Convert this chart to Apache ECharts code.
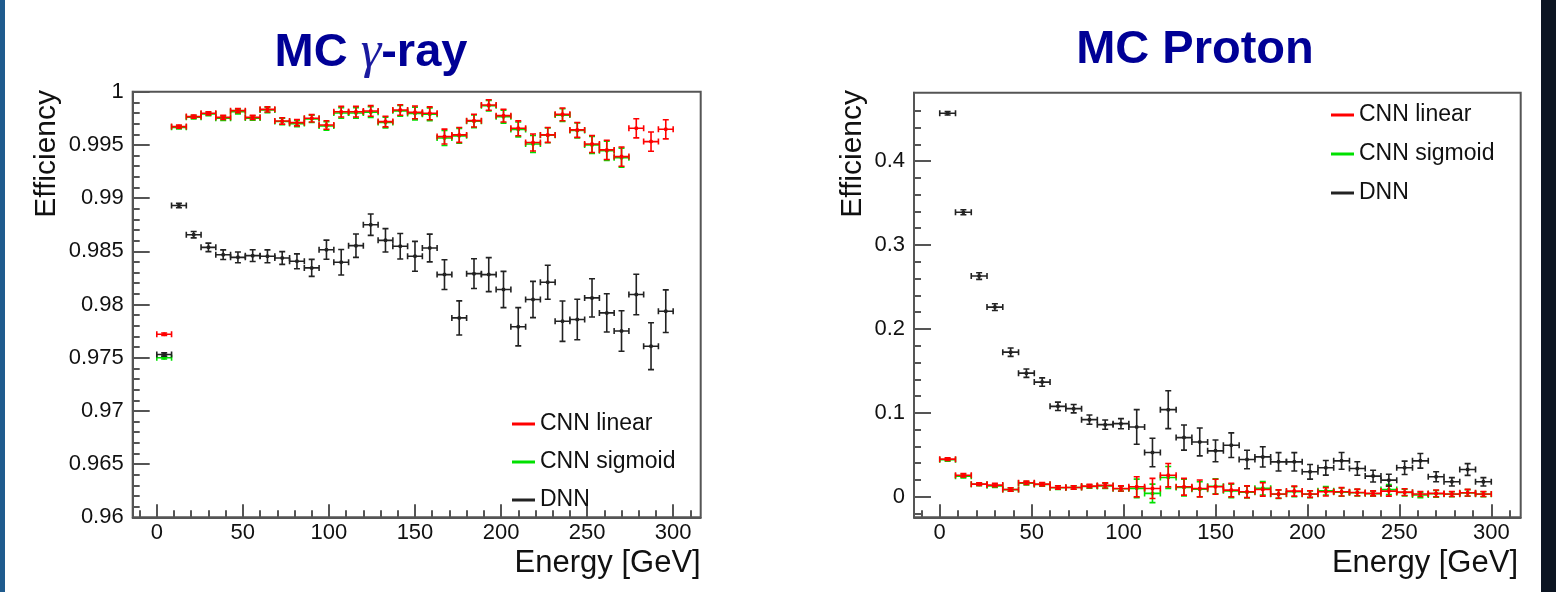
<!DOCTYPE html>
<html>
<head>
<meta charset="utf-8">
<script src="https://cdn.jsdelivr.net/npm/echarts@6/dist/echarts.min.js"></script>
<style>
html,body{margin:0;padding:0;background:#fff;}
#chart{width:1556px;height:592px;}
</style>
</head>
<body>
<div id="chart"></div>
<script>
// ---------------- DATA ----------------
const energy = [4.29, 12.86, 21.43, 30.00, 38.57, 47.14, 55.71, 64.29, 72.86, 81.43,
  90.00, 98.57, 107.14, 115.71, 124.29, 132.86, 141.43, 150.00, 158.57, 167.14,
  175.71, 184.29, 192.86, 201.43, 210.00, 218.57, 227.14, 235.71, 244.29, 252.86,
  261.43, 270.00, 278.57, 287.14, 295.71];
const binHalfWidth = 4.29;

const gammaLinear = [0.9772, 0.99672, 0.99766, 0.99797, 0.99759, 0.99822, 0.99759, 0.99834, 0.99725, 0.99709,
  0.99750, 0.99687, 0.99812, 0.99812, 0.99819, 0.99719, 0.99828, 0.99806, 0.99797, 0.99578,
  0.99594, 0.99728, 0.99875, 0.99775, 0.99656, 0.99522, 0.99594, 0.99787, 0.99641, 0.99509,
  0.99453, 0.99390, 0.99656, 0.99531, 0.99647];
const gammaLinearErr = [0.00012, 0.00015, 0.00015, 0.00015, 0.0002, 0.0002, 0.0002, 0.00025, 0.0003, 0.0003,
  0.00035, 0.0004, 0.0005, 0.0005, 0.0005, 0.0005, 0.0005, 0.0006, 0.0006, 0.0007,
  0.0007, 0.0006, 0.0005, 0.0006, 0.0007, 0.0008, 0.0007, 0.0006, 0.0007, 0.0008,
  0.0009, 0.0009, 0.0009, 0.0009, 0.0009];
const gammaSigmoid = [0.9750, 0.99665, 0.99760, 0.99790, 0.99750, 0.99812, 0.99752, 0.99828, 0.99720, 0.99700,
  0.99745, 0.99678, 0.99800, 0.99800, 0.99808, 0.99710, 0.99820, 0.99795, 0.99788, 0.99565,
  0.99585, 0.99722, 0.99868, 0.99765, 0.99645, 0.99508, 0.99590, 0.99780, 0.99636, 0.99500,
  0.99445, 0.99380];
const gammaSigmoidErr = [0.00012, 0.00015, 0.00015, 0.00015, 0.0002, 0.0002, 0.0002, 0.00025, 0.0003, 0.0003,
  0.00035, 0.0004, 0.0005, 0.0005, 0.0005, 0.0005, 0.0005, 0.0006, 0.0006, 0.0007,
  0.0007, 0.0006, 0.0005, 0.0006, 0.0007, 0.0008, 0.0007, 0.0006, 0.0007, 0.0008,
  0.0009, 0.0009];
const gammaDNN = [0.9753, 0.98930, 0.98656, 0.98537, 0.98468, 0.98443, 0.98459, 0.98453, 0.98437, 0.98406,
  0.98344, 0.98515, 0.98397, 0.98553, 0.98750, 0.98603, 0.98547, 0.98453, 0.98531, 0.98281,
  0.97874, 0.98290, 0.98281, 0.98141, 0.97791, 0.98047, 0.98209, 0.97843, 0.97859, 0.98062,
  0.97921, 0.97751, 0.98094, 0.97608, 0.97937];
const gammaDNNErr = [0.00015, 0.0002, 0.0003, 0.0004, 0.00045, 0.0005, 0.00055, 0.0006, 0.0006, 0.0007,
  0.0008, 0.0009, 0.0012, 0.0011, 0.0010, 0.0011, 0.0012, 0.0014, 0.0013, 0.0014,
  0.0016, 0.0014, 0.0016, 0.0017, 0.0018, 0.0017, 0.0016, 0.0019, 0.0019, 0.0018,
  0.0018, 0.0019, 0.0019, 0.0022, 0.0020];

const protonLinear = [0.0448, 0.0257, 0.0150, 0.0139, 0.0087, 0.0166, 0.0150, 0.0111, 0.0111, 0.0127,
  0.0135, 0.0099, 0.0119, 0.0099, 0.0257, 0.0119, 0.0099, 0.0119, 0.0079, 0.0059,
  0.0087, 0.0032, 0.0067, 0.0032, 0.0059, 0.0059, 0.0051, 0.0040, 0.0067, 0.0055,
  0.0032, 0.0040, 0.0032, 0.0048, 0.0032];
const protonLinearErr = [0.0015, 0.002, 0.0015, 0.002, 0.002, 0.002, 0.002, 0.002, 0.002, 0.002,
  0.003, 0.003, 0.012, 0.012, 0.014, 0.010, 0.010, 0.009, 0.008, 0.007,
  0.008, 0.005, 0.006, 0.004, 0.005, 0.005, 0.004, 0.003, 0.006, 0.004,
  0.003, 0.004, 0.003, 0.004, 0.003];
const protonSigmoid = [0.0440, 0.0245, 0.0148, 0.0130, 0.0085, 0.0160, 0.0145, 0.0108, 0.0110, 0.0122,
  0.0130, 0.0095, 0.0100, 0.0040, 0.0230, 0.0110, 0.0090, 0.0125, 0.0070, 0.0055,
  0.0100, 0.0030, 0.0060, 0.0030, 0.0070, 0.0055, 0.0048, 0.0035, 0.0085, 0.0050,
  0.0020, 0.0035, 0.0030, 0.0045, 0.0030];
const protonSigmoidErr = [0.0015, 0.002, 0.0015, 0.002, 0.002, 0.002, 0.002, 0.002, 0.002, 0.002,
  0.003, 0.003, 0.011, 0.011, 0.013, 0.010, 0.009, 0.009, 0.008, 0.007,
  0.008, 0.005, 0.006, 0.004, 0.005, 0.005, 0.004, 0.003, 0.006, 0.004,
  0.003, 0.004, 0.003, 0.004, 0.003];
const protonDNN = [0.4570, 0.3390, 0.2630, 0.2260, 0.1723, 0.1473, 0.1366, 0.1077, 0.1050, 0.0919,
  0.0859, 0.0871, 0.0832, 0.0527, 0.1038, 0.0705, 0.0653, 0.0547, 0.0614, 0.0444,
  0.0475, 0.0416, 0.0416, 0.0297, 0.0345, 0.0428, 0.0337, 0.0246, 0.0198, 0.0345,
  0.0428, 0.0238, 0.0178, 0.0325, 0.0178];
const protonDNNErr = [0.002, 0.003, 0.004, 0.004, 0.005, 0.005, 0.005, 0.005, 0.005, 0.0055,
  0.0055, 0.006, 0.0206, 0.017, 0.0226, 0.015, 0.0166, 0.013, 0.0147, 0.011,
  0.012, 0.011, 0.011, 0.0087, 0.0087, 0.010, 0.008, 0.007, 0.007, 0.008,
  0.0087, 0.006, 0.005, 0.007, 0.005];

const seriesNames = ['CNN linear', 'CNN sigmoid', 'DNN'];
const xMajorTicks = [0, 50, 100, 150, 200, 250, 300];
const xMinorTicks = [-10, 0, 10, 20, 30, 40, 50, 60, 70, 80, 90, 100, 110, 120, 130, 140, 150, 160,
  170, 180, 190, 200, 210, 220, 230, 240, 250, 260, 270, 280, 290, 300, 310];
const gammaYMajor = [0.96, 0.965, 0.97, 0.975, 0.98, 0.985, 0.99, 0.995, 1];
const gammaYMinor = [0.961, 0.962, 0.963, 0.964, 0.965, 0.966, 0.967, 0.968, 0.969, 0.97,
  0.971, 0.972, 0.973, 0.974, 0.975, 0.976, 0.977, 0.978, 0.979, 0.98,
  0.981, 0.982, 0.983, 0.984, 0.985, 0.986, 0.987, 0.988, 0.989, 0.99,
  0.991, 0.992, 0.993, 0.994, 0.995, 0.996, 0.997, 0.998, 0.999];
const protonYMajor = [0, 0.1, 0.2, 0.3, 0.4];
const protonYMinor = [-0.02, 0, 0.02, 0.04, 0.06, 0.08, 0.1, 0.12, 0.14, 0.16, 0.18, 0.2,
  0.22, 0.24, 0.26, 0.28, 0.3, 0.32, 0.34, 0.36, 0.38, 0.4, 0.42, 0.44, 0.46];

// ---------------- STYLE ----------------
const FONT = '"Liberation Sans", Arial, sans-serif';
const AX = '#555';
const COLORS = {'CNN linear': '#ff0000', 'CNN sigmoid': '#00e000', 'DNN': '#222222'};

function zip(vals, errs) {
  return vals.map((v, i) => [energy[i], v, errs[i]]);
}

function renderer(color) {
  return function (params, api) {
    const x = api.value(0), y = api.value(1), e = api.value(2);
    const c = api.coord([x, y]);
    const l = api.coord([x - binHalfWidth, y]);
    const r = api.coord([x + binHalfWidth, y]);
    const t = api.coord([x, y + e]);
    const b = api.coord([x, y - e]);
    const cap = 3;
    const st = {stroke: color, lineWidth: 1.6};
    return {
      type: 'group',
      children: [
        {type: 'line', shape: {x1: l[0], y1: c[1], x2: r[0], y2: c[1]}, style: st},
        {type: 'line', shape: {x1: c[0], y1: t[1], x2: c[0], y2: b[1]}, style: st},
        {type: 'line', shape: {x1: l[0], y1: c[1] - cap, x2: l[0], y2: c[1] + cap}, style: st},
        {type: 'line', shape: {x1: r[0], y1: c[1] - cap, x2: r[0], y2: c[1] + cap}, style: st},
        {type: 'line', shape: {x1: c[0] - cap, y1: t[1], x2: c[0] + cap, y2: t[1]}, style: st},
        {type: 'line', shape: {x1: c[0] - cap, y1: b[1], x2: c[0] + cap, y2: b[1]}, style: st},
        {type: 'circle', shape: {cx: c[0], cy: c[1], r: 2}, style: {fill: color}}
      ]
    };
  };
}

function errSeries(name, data, axisIdx, z) {
  const color = COLORS[name];
  return {
    type: 'custom', name: name, xAxisIndex: axisIdx, yAxisIndex: axisIdx,
    renderItem: renderer(color), data: data, encode: {x: 0, y: 1},
    itemStyle: {color: color}, color: color, clip: true, z: z, silent: true
  };
}

function majorX(grid, min, max) {
  return {
    type: 'value', gridIndex: grid, min: min, max: max, position: 'bottom',
    splitLine: {show: false},
    axisLine: {show: true, onZero: false, lineStyle: {color: AX, width: 2}},
    axisTick: {show: true, inside: true, length: 13, customValues: xMajorTicks, lineStyle: {color: AX, width: 2}},
    axisLabel: {show: true, customValues: xMajorTicks, fontFamily: FONT, fontSize: 22, color: '#111', margin: 5}
  };
}
function minorX(grid, min, max) {
  return {
    type: 'value', gridIndex: grid, min: min, max: max, position: 'bottom',
    splitLine: {show: false},
    axisLine: {show: false, onZero: false},
    axisTick: {show: true, inside: true, length: 7, customValues: xMinorTicks, lineStyle: {color: AX, width: 2}},
    axisLabel: {show: false}
  };
}
function majorY(grid, min, max, ticks) {
  return {
    type: 'value', gridIndex: grid, min: min, max: max, position: 'left',
    splitLine: {show: false},
    axisLine: {show: true, onZero: false, lineStyle: {color: AX, width: 2}},
    axisTick: {show: true, inside: true, length: 17, customValues: ticks, lineStyle: {color: AX, width: 2}},
    axisLabel: {show: true, customValues: ticks, fontFamily: FONT, fontSize: 22, color: '#111', margin: 9}
  };
}
function minorY(grid, min, max, ticks) {
  return {
    type: 'value', gridIndex: grid, min: min, max: max, position: 'left',
    splitLine: {show: false},
    axisLine: {show: false, onZero: false},
    axisTick: {show: true, inside: true, length: 7, customValues: ticks, lineStyle: {color: AX, width: 2}},
    axisLabel: {show: false}
  };
}

const chart = echarts.init(document.getElementById('chart'), null, {renderer: 'canvas'});

const titleStyle = {
  fontFamily: FONT, fontSize: 47, fontWeight: 'bold', color: '#000096',
  rich: {
    g: {fontFamily: '"Liberation Serif", "DejaVu Serif", serif', fontStyle: 'italic', fontWeight: 'normal',
        fontSize: 52, color: '#1a1aa0'}
  }
};

const legendBase = {
  orient: 'vertical', itemWidth: 23, itemHeight: 3, itemGap: 14, icon: 'rect',
  textStyle: {fontFamily: FONT, fontSize: 23, color: '#111', lineHeight: 24},
  data: seriesNames, selectedMode: false
};

chart.setOption({
  animation: false,
  backgroundColor: '#ffffff',
  title: [
    {text: 'MC {g|γ}-ray', left: 366, top: 22, textAlign: 'center', textStyle: titleStyle},
    {text: 'MC Proton', left: 1190, top: 22, textAlign: 'center', textStyle: titleStyle}
  ],
  legend: [
    Object.assign({}, legendBase, {left: 507, top: 407}),
    Object.assign({}, legendBase, {left: 1326, top: 98, itemGap: 15})
  ],
  grid: [
    {left: 132.7, top: 91.7, width: 568, height: 425.6, show: true, borderColor: AX, borderWidth: 2, backgroundColor: 'transparent'},
    {left: 914, top: 92.7, width: 606.7, height: 424.6, show: true, borderColor: AX, borderWidth: 2, backgroundColor: 'transparent'}
  ],
  xAxis: [
    majorX(0, -14, 316), minorX(0, -14, 316),
    majorX(1, -14, 316), minorX(1, -14, 316)
  ],
  yAxis: [
    majorY(0, 0.96, 1, gammaYMajor), minorY(0, 0.96, 1, gammaYMinor),
    majorY(1, -0.0245, 0.4815, protonYMajor), minorY(1, -0.0245, 0.4815, protonYMinor)
  ],
  series: [
    errSeries('CNN sigmoid', zip(gammaSigmoid, gammaSigmoidErr), 0, 2),
    errSeries('CNN linear', zip(gammaLinear, gammaLinearErr), 0, 3),
    errSeries('DNN', zip(gammaDNN, gammaDNNErr), 0, 4),
    errSeries('CNN sigmoid', zip(protonSigmoid, protonSigmoidErr), 2, 2),
    errSeries('CNN linear', zip(protonLinear, protonLinearErr), 2, 3),
    errSeries('DNN', zip(protonDNN, protonDNNErr), 2, 4)
  ],
  graphic: [
    {type: 'rect', left: 0, top: 0, shape: {width: 5, height: 592}, style: {fill: '#1f5b8e'}, silent: true},
    {type: 'rect', left: 1541, top: 0, shape: {width: 15, height: 592}, style: {fill: '#0c1522'}, silent: true},
    {type: 'text', x: 47, y: 90, rotation: Math.PI / 2,
     style: {text: 'Efficiency', font: '30px ' + FONT, fill: '#111', align: 'right', verticalAlign: 'middle'}},
    {type: 'text', x: 853, y: 90, rotation: Math.PI / 2,
     style: {text: 'Efficiency', font: '30px ' + FONT, fill: '#111', align: 'right', verticalAlign: 'middle'}},
    {type: 'text', x: 700.7, y: 579,
     style: {text: 'Energy [GeV]', font: '31px ' + FONT, fill: '#111', align: 'right', verticalAlign: 'bottom'}},
    {type: 'text', x: 1518, y: 579,
     style: {text: 'Energy [GeV]', font: '31px ' + FONT, fill: '#111', align: 'right', verticalAlign: 'bottom'}}
  ]
});
</script>
</body>
</html>
